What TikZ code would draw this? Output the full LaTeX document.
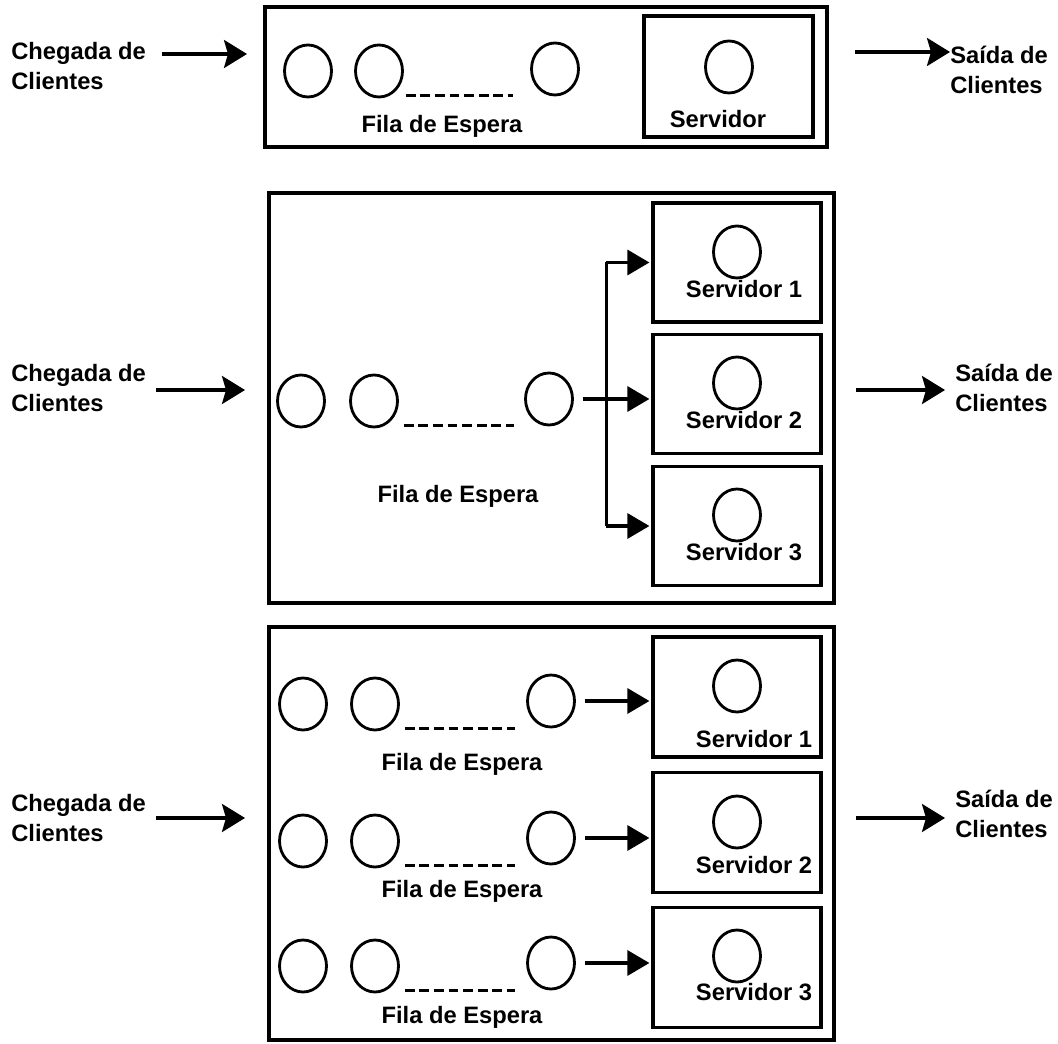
\documentclass[tikz,border=0pt]{standalone}
\usepackage{fontspec}
\setmainfont{Liberation Sans}
\usepackage{tikz}
\usetikzlibrary{arrows.meta,calc,positioning,shapes.geometric}

\begin{document}
\begin{tikzpicture}[
  filapanel/.style={draw=black,line width=1.8pt},
  filaserver/.style={draw=black,line width=1.8pt,minimum width=3.36cm,
    minimum height=2.38cm,inner sep=0pt},
  filaclient/.style={draw=black,ellipse,line width=1.6pt,minimum width=0.94cm,
    minimum height=1.04cm,inner sep=0pt},
  filalabel/.style={font=\bfseries\fontsize{13.5}{16}\selectfont,inner sep=0pt},
  filaside/.style={font=\bfseries\fontsize{13.5}{17}\selectfont,inner sep=0pt,
    align=left,anchor=west},
  filadots/.style={line width=1.8pt,dash pattern=on 5.5pt off 2.8pt},
  filaflow/.style={-{Triangle[length=0.44cm,width=0.5cm]},line width=1.8pt,
    shorten <=0.18cm,shorten >=0.04cm},
  filaarrow/.style={-{Stealth[length=0.46cm,width=0.56cm,inset=0.08cm]},
    line width=1.8pt}
]
  \useasboundingbox (0,0) rectangle (21.16,20.86);

  % single queue, single server
  \draw[filapanel] (5.30,20.72) rectangle (16.54,17.92);
  \node[filaserver,minimum width=3.38cm,minimum height=2.42cm] (s1)
    at (14.57,19.33) {};
  \node[filaclient] (s1c) at (14.58,19.52) {};
  \node[filalabel] (s1lab) at (14.36,18.48) {Servidor};
  \node[filaclient] (q1a) at (6.16,19.44) {};
  \node[filaclient] (q1b) at (7.58,19.44) {};
  \node[filaclient] (q1c) at (11.10,19.48) {};
  \draw[filadots] ($(q1b.east |- q1b.south)+(0.04,0.05)$) -- ++(2.15,0);
  \node[filalabel] (fila1) at (8.84,18.34) {Fila de Espera};
  \node[filaside] (chega1) at (0.22,19.54) {Chegada de\\Clientes};
  \coordinate (in1a) at (3.24,19.78);
  \coordinate (in1b) at (4.94,19.78);
  \draw[filaarrow] (in1a) -- (in1b);
  \node[filaside] (saida1) at (19.00,19.46) {Saída de\\Clientes};
  \coordinate (out1a) at (17.10,19.82);
  \draw[filaarrow] (out1a) -- (saida1.west |- out1a);

  % single queue, three servers
  \draw[filapanel] (5.38,17.00) rectangle (16.68,8.80);
  \node[filaserver] (s21) at (14.74,15.61) {};
  \node[filaserver] (s22) at (14.74,12.98) {};
  \node[filaserver] (s23) at (14.74,10.34) {};
  \node[filaclient] (s21c) at (14.74,15.82) {};
  \node[filaclient] (s22c) at (14.74,13.20) {};
  \node[filaclient] (s23c) at (14.74,10.56) {};
  \node[filalabel] (s21lab) at (14.88,15.08) {Servidor 1};
  \node[filalabel] (s22lab) at (14.88,12.46) {Servidor 2};
  \node[filalabel] (s23lab) at (14.88,9.82) {Servidor 3};
  \node[filaclient] (q2a) at (6.02,12.84) {};
  \node[filaclient] (q2b) at (7.48,12.84) {};
  \node[filaclient] (q2c) at (10.98,12.88) {};
  \draw[filadots] ($(q2b.east |- q2b.south)+(0.1,0.06)$) -- ++(2.2,0);
  \node[filalabel] (fila2) at (9.16,10.94) {Fila de Espera};
  \coordinate (fork) at ($(q2c.east)!0.42!(q2c.east -| s22.west)$);
  \draw[filaflow] (q2c.east) -- (q2c.east -| s22.west);
  \draw[line width=1.8pt] (fork |- s21.west) -- (fork |- s23.west);
  \draw[filaflow,shorten <=0pt] (fork |- s21.west) -- (s21.west);
  \draw[filaflow,shorten <=0pt] (fork |- s23.west) -- (s23.west);
  \node[filaside] (chega2) at (0.22,13.10) {Chegada de\\Clientes};
  \coordinate (in2a) at (3.12,13.06);
  \coordinate (in2b) at (4.90,13.06);
  \draw[filaarrow] (in2a) -- (in2b);
  \node[filaside] (saida2) at (19.10,13.10) {Saída de\\Clientes};
  \coordinate (out2a) at (17.12,13.06);
  \coordinate (out2b) at (18.90,13.06);
  \draw[filaarrow] (out2a) -- (out2b);

  % one queue per server
  \draw[filapanel] (5.38,8.32) rectangle (16.68,0.06);
  \node[filaserver,minimum height=2.40cm] (s31) at (14.74,6.92) {};
  \node[filaserver,minimum height=2.40cm] (s32) at (14.74,4.21) {};
  \node[filaserver,minimum height=2.40cm] (s33) at (14.74,1.51) {};
  \node[filaclient] (s31c) at (14.74,7.14) {};
  \node[filaclient] (s32c) at (14.74,4.42) {};
  \node[filaclient] (s33c) at (14.74,1.74) {};
  \node[filalabel] (s31lab) at (15.08,6.08) {Servidor 1};
  \node[filalabel] (s32lab) at (15.08,3.56) {Servidor 2};
  \node[filalabel] (s33lab) at (15.08,1.02) {Servidor 3};

  \node[filaclient] (q31a) at (6.06,6.78) {};
  \node[filaclient] (q31b) at (7.50,6.78) {};
  \node[filaclient] (q31c) at (11.02,6.84) {};
  \draw[filadots] ($(q31b.east |- q31b.south)+(0.1,0.06)$) -- ++(2.2,0);
  \node[filalabel] (fila31) at (9.24,5.58) {Fila de Espera};
  \draw[filaflow] (q31c.east) -- (q31c.east -| s31.west);

  \node[filaclient] (q32a) at (6.06,4.04) {};
  \node[filaclient] (q32b) at (7.50,4.04) {};
  \node[filaclient] (q32c) at (11.02,4.10) {};
  \draw[filadots] ($(q32b.east |- q32b.south)+(0.1,0.06)$) -- ++(2.2,0);
  \node[filalabel] (fila32) at (9.24,3.04) {Fila de Espera};
  \draw[filaflow] (q32c.east) -- (q32c.east -| s32.west);

  \node[filaclient] (q33a) at (6.06,1.54) {};
  \node[filaclient] (q33b) at (7.50,1.54) {};
  \node[filaclient] (q33c) at (11.02,1.60) {};
  \draw[filadots] ($(q33b.east |- q33b.south)+(0.1,0.06)$) -- ++(2.2,0);
  \node[filalabel] (fila33) at (9.24,0.52) {Fila de Espera};
  \draw[filaflow] (q33c.east) -- (q33c.east -| s33.west);

  \node[filaside] (chega3) at (0.22,4.50) {Chegada de\\Clientes};
  \coordinate (in3a) at (3.12,4.50);
  \coordinate (in3b) at (4.90,4.50);
  \draw[filaarrow] (in3a) -- (in3b);
  \node[filaside] (saida3) at (19.10,4.58) {Saída de\\Clientes};
  \coordinate (out3a) at (17.12,4.50);
  \coordinate (out3b) at (18.90,4.50);
  \draw[filaarrow] (out3a) -- (out3b);
\end{tikzpicture}
\end{document}
